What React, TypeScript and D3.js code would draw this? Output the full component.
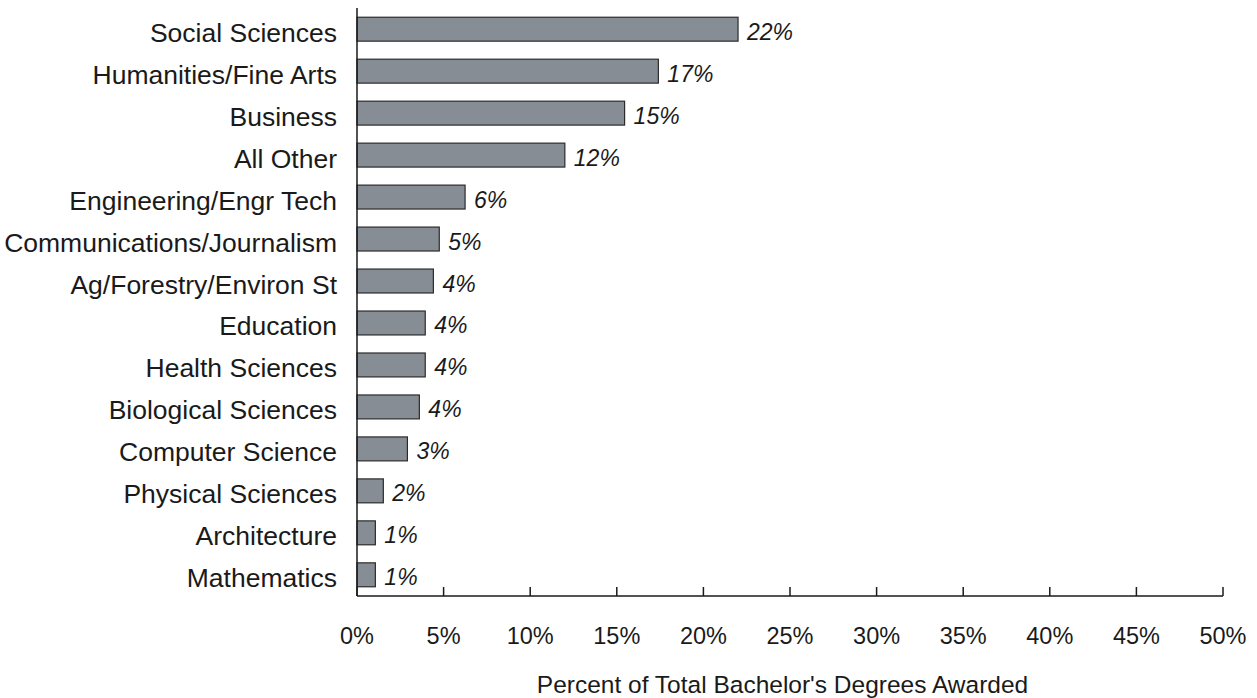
import React from "react";
import * as d3 from "d3";

const categories = [
  "Social Sciences",
  "Humanities/Fine Arts",
  "Business",
  "All Other",
  "Engineering/Engr Tech",
  "Communications/Journalism",
  "Ag/Forestry/Environ St",
  "Education",
  "Health Sciences",
  "Biological Sciences",
  "Computer Science",
  "Physical Sciences",
  "Architecture",
  "Mathematics",
];
const values = [22.0, 17.4, 15.45, 12.0, 6.24, 4.75, 4.41, 3.94, 3.94, 3.6, 2.91, 1.52, 1.06, 1.06];
const valueLabels = ["22%", "17%", "15%", "12%", "6%", "5%", "4%", "4%", "4%", "4%", "3%", "2%", "1%", "1%"];
const tickValues = [0, 5, 10, 15, 20, 25, 30, 35, 40, 45, 50];
const axisTitle = "Percent of Total Bachelor's Degrees Awarded";

const W = 1257;
const H = 698;
const FONT = "'Liberation Sans', Arial, sans-serif";

export default function App() {
  const x = d3.scaleLinear().domain([0, 50]).range([357, 1223]);
  const y = d3
    .scaleBand<string>()
    .domain(categories)
    .range([8, 596])
    .paddingInner(0.43)
    .paddingOuter(0.22);
  const axisY = 596;
  return (
    <svg
      width={W}
      height={H}
      style={{ position: "absolute", left: 0, top: 0, background: "#fff" }}
      fontFamily={FONT}
    >
      {categories.map((c, i) => {
        const yy = y(c)!;
        const bw = y.bandwidth();
        const cy = yy + bw / 2;
        return (
          <g key={c}>
            <rect
              x={x(0)}
              y={yy}
              width={x(values[i]) - x(0)}
              height={bw}
              fill="#878d94"
              stroke="#2b2b2b"
              strokeWidth={1.2}
            />
            <text x={337} y={cy + 12.5} textAnchor="end" fontSize={26.5} fill="#1a1a1a">
              {c}
            </text>
            <text
              x={x(values[i]) + 9}
              y={cy + 10.5}
              fontSize={23}
              fontStyle="italic"
              fill="#1a1a1a"
            >
              {valueLabels[i]}
            </text>
          </g>
        );
      })}
      <line x1={x(0)} x2={x(0)} y1={8} y2={axisY} stroke="#1a1a1a" strokeWidth={1.5} />
      <line x1={x(0)} x2={x(50)} y1={axisY} y2={axisY} stroke="#1a1a1a" strokeWidth={1.5} />
      {tickValues.map((t) => (
        <g key={t}>
          <line x1={x(t)} x2={x(t)} y1={axisY} y2={axisY - 9} stroke="#1a1a1a" strokeWidth={1.5} />
          <text x={x(t)} y={644} textAnchor="middle" fontSize={23.5} fill="#1a1a1a">
            {t}%
          </text>
        </g>
      ))}
      <text x={(537 + 1028) / 2} y={693} textAnchor="middle" fontSize={24.5} fill="#1a1a1a">
        {axisTitle}
      </text>
    </svg>
  );
}
